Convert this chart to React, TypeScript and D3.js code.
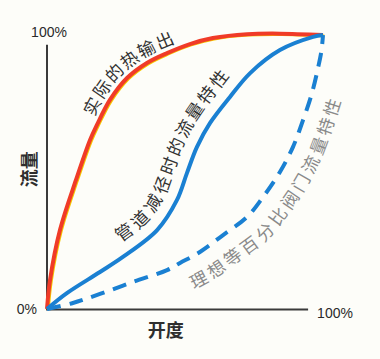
import React, { useEffect, useRef } from 'react';
import * as d3 from 'd3';

const W = 380;
const H = 359;

// Opening (%) -> flow (%)
const heatX = [0, 1.1, 4.7, 10.5, 15.6, 18.1, 22.8, 29, 36.2, 43.5, 51.8, 60.1, 72.5, 84.4, 100];
const heatY = [0, 10.6, 28.8, 47.1, 61.7, 67.2, 76.3, 84.3, 89.8, 93.4, 96.7, 98.9, 100.3, 100.5, 100];

const pipeX = [0, 7.2, 19.2, 27.5, 39.9, 47.1, 50.7, 54.3, 59.1, 66.3, 73.6, 84.4, 96.4, 100];
const pipeY = [0, 5.8, 13.5, 19, 28.8, 39.8, 49.6, 59.1, 67.9, 77.4, 86.1, 94.5, 99.3, 100];

const idealX = [0, 9.4, 19.2, 31.2, 43.5, 48.2, 55.4, 63.8, 72.5, 78.3, 84.4, 89.1, 92.8, 96, 98.2, 99.4, 100];
const idealY = [0, 2.2, 5.5, 9.9, 14.2, 16.8, 20.8, 27, 33.6, 40.9, 50, 59.1, 69, 78.8, 88, 94, 100];

const labelTexts = ['实际的热输出', '管道减径时的流量特性', '理想等百分比阀门流量特性'];
const tickLabels = ['0%', '100%'];
const axisTitles = ['开度', '流量'];

const x = d3.scaleLinear().domain([0, 100]).range([47, 323]);
const y = d3.scaleLinear().domain([0, 100]).range([309, 35]);

const line = d3
  .line<[number, number]>()
  .x((d) => x(d[0]))
  .y((d) => y(d[1]))
  .curve(d3.curveCatmullRom.alpha(0.5));

const zip = (a: number[], b: number[]) => a.map((v, i) => [v, b[i]] as [number, number]);

const seriesIds = ['s-heat', 's-pipe', 's-ideal'];
const labelCfg = [
  { series: 0, center: 30.4, offset: 14, color: '#333' },
  { series: 1, center: 52.2, offset: 21, color: '#333' },
  { series: 2, center: 79.3, offset: -22, color: '#8a8a8a' },
];

export default function App() {
  const ref = useRef<SVGSVGElement>(null);

  useEffect(() => {
    const svg = d3.select(ref.current);
    labelCfg.forEach((lb, i) => {
      const src = svg.select<SVGPathElement>('#' + seriesIds[lb.series]).node();
      if (!src) return;
      const L = src.getTotalLength();
      const pts: DOMPoint[] = [];
      for (let s = 0; s <= L; s += 1) pts.push(src.getPointAtLength(s));
      const w = 6;
      const off = pts.map((p, k) => {
        const a = pts[Math.max(0, k - w)];
        const b = pts[Math.min(pts.length - 1, k + w)];
        let dx = b.x - a.x;
        let dy = b.y - a.y;
        const n = Math.hypot(dx, dy) || 1;
        dx /= n;
        dy /= n;
        return [p.x + dy * lb.offset, p.y - dx * lb.offset];
      });
      const cx = x(lb.center);
      let best = 0;
      let bd = Infinity;
      pts.forEach((p, k) => {
        const d = Math.abs(p.x - cx);
        if (d < bd) {
          bd = d;
          best = k;
        }
      });
      let cum = 0;
      for (let k = 1; k <= best; k++) cum += Math.hypot(off[k][0] - off[k - 1][0], off[k][1] - off[k - 1][1]);
      svg.select('#lp' + i).attr('d', 'M' + off.map((p) => p[0].toFixed(2) + ',' + p[1].toFixed(2)).join('L'));
      svg.select('#tp' + i).attr('startOffset', cum);
    });
  }, []);

  const heat = zip(heatX, heatY);
  const pipe = zip(pipeX, pipeY);
  const ideal = zip(idealX, idealY);

  return (
    <svg
      ref={ref}
      width={W}
      height={H}
      style={{ position: 'absolute', left: 0, top: 0, background: '#fdfdf9' }}
    >
      <defs>
        {labelTexts.map((_, i) => (
          <path key={i} id={'lp' + i} d="M0,0" />
        ))}
      </defs>
      {/* axes */}
      <line x1={x(0)} y1={y(0) + 0.5} x2={x(0)} y2={y(96.4)} stroke="#3a3a3a" strokeWidth={2} />
      <line x1={x(0) - 1} y1={y(0) + 0.5} x2={x(94.6)} y2={y(0) + 0.5} stroke="#3a3a3a" strokeWidth={2} />

      {/* heat transfer curve: yellow rim + red */}
      <path d={line(heat) || ''} fill="none" stroke="#f5c800" strokeWidth={3} transform="translate(1.3,0.9)" />
      <path id={seriesIds[0]} d={line(heat) || ''} fill="none" stroke="#f03b28" strokeWidth={4} />

      {/* pipe reduction curve */}
      <path id={seriesIds[1]} d={line(pipe) || ''} fill="none" stroke="#1a80d2" strokeWidth={4} />

      {/* ideal equal percentage */}
      <path
        id={seriesIds[2]}
        d={line(ideal) || ''}
        fill="none"
        stroke="#1a80d2"
        strokeWidth={4}
        strokeDasharray="14 9"
      />

      {/* curve labels */}
      {labelTexts.map((t, i) => (
        <text
          key={i}
          fontFamily="'Noto Sans CJK SC', sans-serif"
          fontSize={17.5}
          letterSpacing={2.8}
          fill={labelCfg[i].color}
          dominantBaseline="central"
          textAnchor="middle"
        >
          <textPath id={'tp' + i} href={'#lp' + i} startOffset={0}>
            {t}
          </textPath>
        </text>
      ))}

      {/* tick labels */}
      <g fontFamily="'Liberation Sans', Arial, sans-serif" fontSize={14} fill="#2a2a2a">
        <text x={x(0) - 10} y={y(0) + 5} textAnchor="end">
          {tickLabels[0]}
        </text>
        <text x={x(0) + 2} y={y(100) + 2} textAnchor="middle">
          {tickLabels[1]}
        </text>
        <text x={x(94.6) + 9} y={y(0) + 9} textAnchor="start">
          {tickLabels[1]}
        </text>
      </g>

      {/* axis titles */}
      <g fontFamily="'Noto Sans CJK SC', sans-serif" fontSize={18} fontWeight="bold" fill="#2e2e2e">
        <text x={x(43)} y={y(0) + 20} textAnchor="middle" dominantBaseline="central">
          {axisTitles[0]}
        </text>
        <text
          transform={`translate(${x(0) - 19},${y(51)}) rotate(-90)`}
          textAnchor="middle"
          dominantBaseline="central"
        >
          {axisTitles[1]}
        </text>
      </g>
    </svg>
  );
}
